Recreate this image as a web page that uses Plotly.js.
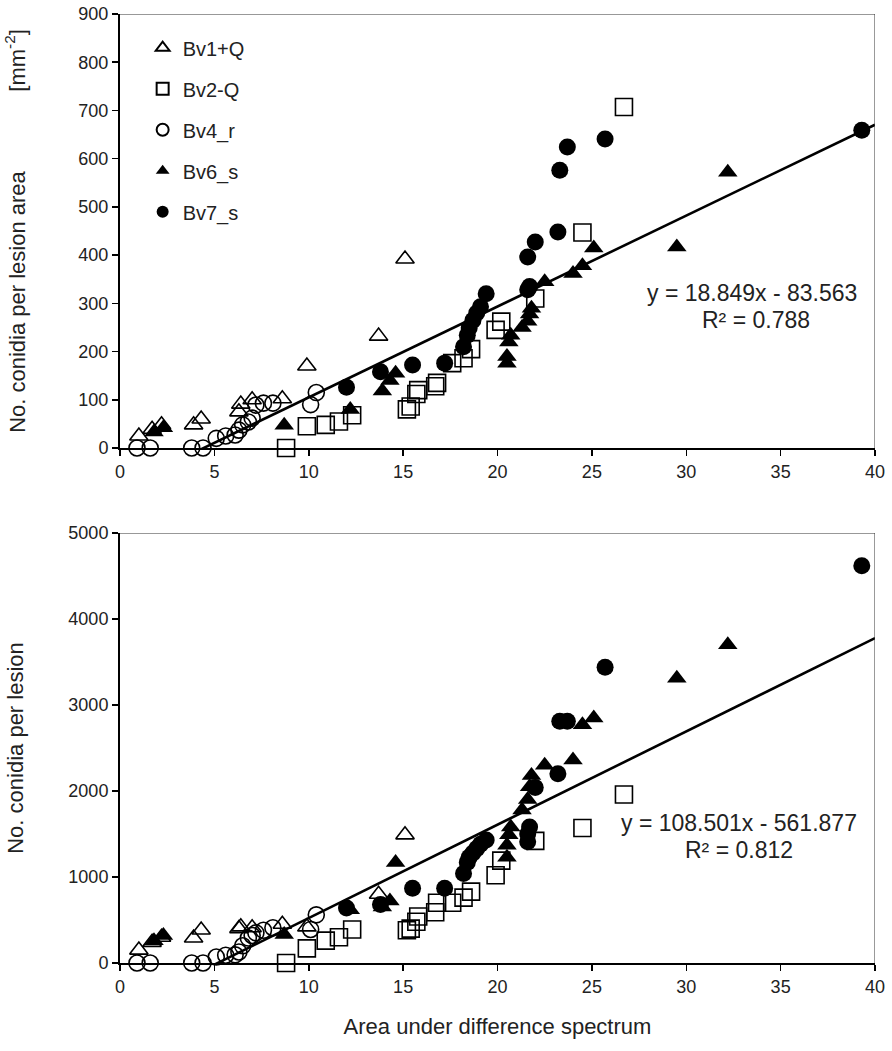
<!DOCTYPE html>
<html>
<head>
<meta charset="utf-8">
<script src="https://cdn.plot.ly/plotly-3.0.1.min.js"></script>
<style>html,body{margin:0;padding:0;background:#fff;}#chart{width:892px;height:1051px;}</style>
</head>
<body>
<div id="chart"></div>
<script>
// Series names
const seriesNames = ["Bv1+Q", "Bv2-Q", "Bv4_r", "Bv6_s", "Bv7_s"];

// Bv1+Q
const xBv1 = [1.0, 1.7, 2.2, 3.9, 4.3, 6.3, 6.4, 7.0, 8.6, 9.9, 13.7, 15.1];
const areaBv1 = [25, 39, 48, 48, 60, 75, 91, 100, 102, 170, 232, 392];
const lesionBv1 = [150, 240, 300, 290, 384, 400, 420, 410, 450, 420, 800, 1490];

// Bv2-Q
const xBv2 = [8.8, 9.9, 10.9, 11.6, 12.3, 15.2, 15.4, 15.7, 15.8, 16.7, 16.8, 17.6, 18.2, 18.6, 19.9, 20.2, 22.0, 24.5, 26.7];
const areaBv2 = [0, 45, 48, 55, 68, 80, 86, 112, 120, 128, 135, 176, 186, 205, 245, 262, 310, 447, 707];
const lesionBv2 = [0, 170, 260, 300, 390, 380, 400, 480, 540, 590, 700, 700, 760, 830, 1020, 1190, 1420, 1570, 1960];

// Bv4_r
const xBv4 = [0.9, 1.6, 3.8, 4.4, 5.1, 5.6, 6.1, 6.3, 6.5, 6.8, 7.0, 7.2, 7.6, 8.1, 10.1, 10.4];
const areaBv4 = [0, 0, 0, 0, 20, 25, 27, 37, 48, 54, 62, 89, 93, 93, 90, 115];
const lesionBv4 = [0, 0, 0, 0, 70, 90, 95, 128, 200, 290, 320, 350, 380, 410, 390, 560];

// Bv6_s
const xBv6 = [1.8, 2.3, 8.7, 12.2, 13.9, 14.3, 14.6, 20.5, 20.5, 20.6, 20.7, 21.3, 21.6, 21.7, 21.8, 22.5, 24.0, 24.5, 25.1, 29.5, 32.2];
const areaBv6 = [33, 42, 47, 80, 118, 140, 155, 176, 190, 220, 234, 250, 263, 278, 290, 345, 362, 378, 415, 417, 572];
const lesionBv6 = [260, 320, 330, 620, 650, 720, 1170, 1230, 1370, 1490, 1580, 1780, 1900, 2050, 2180, 2300, 2360, 2770, 2850, 3310, 3700];

// Bv7_s
const xBv7 = [12.0, 13.8, 15.5, 17.2, 18.2, 18.4, 18.5, 18.7, 18.9, 19.1, 19.4, 21.6, 21.6, 21.7, 22.0, 23.2, 23.3, 23.7, 25.7, 39.3];
const areaBv7 = [126, 158, 172, 176, 210, 234, 249, 265, 280, 293, 320, 328, 396, 335, 427, 448, 576, 624, 641, 659];
const lesionBv7 = [640, 680, 870, 870, 1040, 1170, 1230, 1280, 1330, 1380, 1430, 1410, 1500, 1580, 2040, 2200, 2810, 2810, 3440, 4620];

// Trendlines (linear fits as printed on the chart)
const fitTop = {slope: 18.849, intercept: -83.563, label: "y = 18.849x - 83.563", r2: "R² = 0.788"};
const fitBottom = {slope: 108.501, intercept: -561.877, label: "y = 108.501x - 561.877", r2: "R² = 0.812"};
const fitX = [0, 40];

// Axis ticks
const xTicks = [0, 5, 10, 15, 20, 25, 30, 35, 40];
const yTopTicks = [0, 100, 200, 300, 400, 500, 600, 700, 800, 900];
const yBottomTicks = [0, 1000, 2000, 3000, 4000, 5000];

const FONT = "Liberation Sans, Arial, sans-serif";
const symbols = ["triangle-up-open", "square-open", "circle-open", "triangle-up", "circle"];
const sizes = [16, 17, 16, 17, 17];
const xs = [xBv1, xBv2, xBv4, xBv6, xBv7];
const topYs = [areaBv1, areaBv2, areaBv4, areaBv6, areaBv7];
const botYs = [lesionBv1, lesionBv2, lesionBv4, lesionBv6, lesionBv7];

const traces = [];
traces.push({x: fitX, y: fitX.map(v => fitTop.slope * v + fitTop.intercept), xaxis: 'x', yaxis: 'y',
  mode: 'lines', line: {color: '#000', width: 2.6}, showlegend: false, hoverinfo: 'skip'});
traces.push({x: fitX, y: fitX.map(v => fitBottom.slope * v + fitBottom.intercept), xaxis: 'x2', yaxis: 'y2',
  mode: 'lines', line: {color: '#000', width: 2.6}, showlegend: false, hoverinfo: 'skip'});

for (let i = 0; i < 5; i++) {
  const open = symbols[i].indexOf('open') >= 0;
  const marker = {symbol: symbols[i], size: sizes[i], color: '#000', line: {color: '#000', width: open ? 1.6 : 0}};
  traces.push({x: xs[i], y: topYs[i], xaxis: 'x', yaxis: 'y', mode: 'markers', name: seriesNames[i],
    legendgroup: 'g' + i, marker: marker, cliponaxis: false});
  traces.push({x: xs[i], y: botYs[i], xaxis: 'x2', yaxis: 'y2', mode: 'markers', name: seriesNames[i],
    legendgroup: 'g' + i, showlegend: false, marker: marker, cliponaxis: false});
}

const axCommon = {
  showgrid: false, zeroline: false, showline: true, linecolor: '#000', linewidth: 2,
  ticks: 'outside', ticklen: 6, tickwidth: 1.5, tickcolor: '#000',
  tickfont: {family: FONT, size: 18, color: '#222'}
};

const topDomain = [(963 - 448) / 949, 1];
const botDomain = [0, (963 - 533) / 949];
const annFont = {family: FONT, size: 23, color: '#222'};
const titleFont = {family: FONT, size: 22, color: '#222'};
const gap = '&nbsp;'.repeat(13);

const layout = {
  width: 892, height: 1051,
  margin: {l: 120, r: 17, t: 14, b: 88},
  paper_bgcolor: '#fff', plot_bgcolor: '#fff',
  font: {family: FONT, color: '#222'},
  showlegend: true,
  legend: {x: 0.03, y: 0.985, xanchor: 'left', yanchor: 'top', bgcolor: 'rgba(0,0,0,0)',
    font: {family: FONT, size: 20, color: '#222'}, itemsizing: 'constant', traceorder: 'grouped', tracegroupgap: 12},
  xaxis: Object.assign({}, axCommon, {domain: [0, 1], anchor: 'y', range: [0, 40], tickvals: xTicks}),
  yaxis: Object.assign({}, axCommon, {domain: topDomain, anchor: 'x', range: [0, 900], tickvals: yTopTicks,
    title: {text: 'No. conidia per lesion area' + gap + '[mm<sup>-2</sup>]', font: titleFont, standoff: 47}}),
  xaxis2: Object.assign({}, axCommon, {domain: [0, 1], anchor: 'y2', range: [0, 40], tickvals: xTicks,
    title: {text: 'Area under difference spectrum', font: titleFont, standoff: 23}}),
  yaxis2: Object.assign({}, axCommon, {domain: botDomain, anchor: 'x2', range: [0, 5000], tickvals: yBottomTicks,
    title: {text: 'No. conidia per lesion', font: titleFont, standoff: 39}}),
  shapes: [
    {type: 'line', xref: 'x', yref: 'y', x0: 0, x1: 40, y0: 900, y1: 900, line: {color: '#333', width: 1}},
    {type: 'line', xref: 'x', yref: 'y', x0: 40, x1: 40, y0: 0, y1: 900, line: {color: '#333', width: 1}},
    {type: 'line', xref: 'x2', yref: 'y2', x0: 0, x1: 40, y0: 5000, y1: 5000, line: {color: '#333', width: 1}},
    {type: 'line', xref: 'x2', yref: 'y2', x0: 40, x1: 40, y0: 0, y1: 5000, line: {color: '#333', width: 1}}
  ],
  annotations: [
    {xref: 'x', yref: 'y', x: 33.5, y: 321, text: fitTop.label, showarrow: false, font: annFont},
    {xref: 'x', yref: 'y', x: 33.7, y: 265, text: fitTop.r2, showarrow: false, font: annFont},
    {xref: 'x2', yref: 'y2', x: 32.8, y: 1628, text: fitBottom.label, showarrow: false, font: annFont},
    {xref: 'x2', yref: 'y2', x: 32.8, y: 1314, text: fitBottom.r2, showarrow: false, font: annFont}
  ]
};

Plotly.newPlot('chart', traces, layout, {displayModeBar: false, staticPlot: true});
</script>
</body>
</html>
